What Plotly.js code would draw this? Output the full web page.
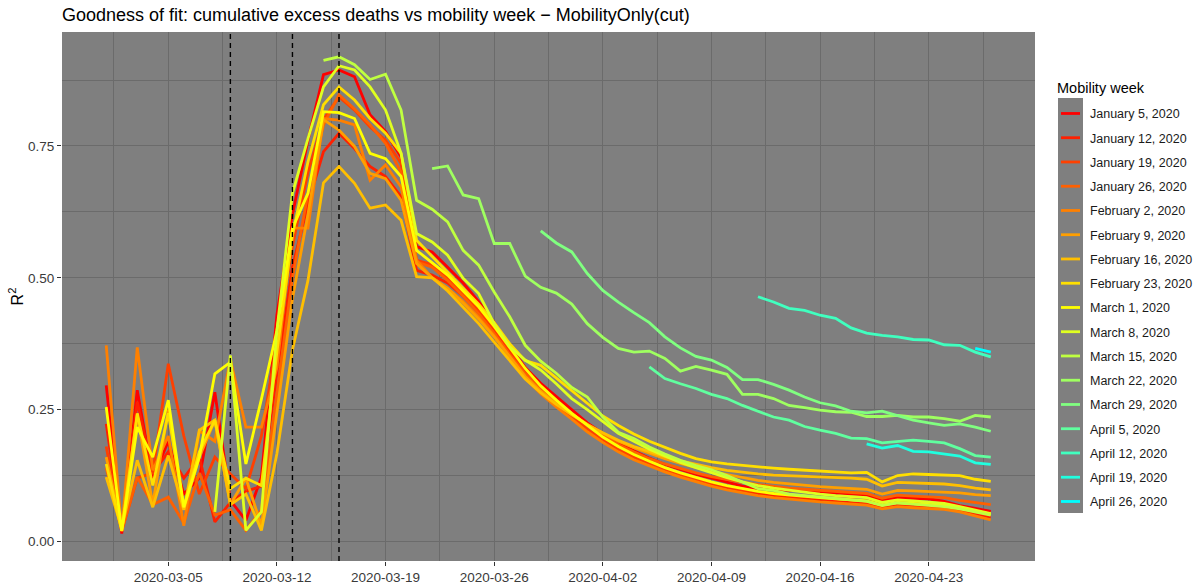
<!DOCTYPE html>
<html><head><meta charset="utf-8">
<script src="https://cdn.plot.ly/plotly-3.0.1.min.js"></script>
<style>html,body{margin:0;padding:0;background:#fff}#chart{width:1202px;height:584px}</style>
</head><body><div id="chart"></div>
<script>
// ---- data ----
const firstDay = '2020-03-01';
const weekLabels = ['January 5, 2020','January 12, 2020','January 19, 2020','January 26, 2020',
  'February 2, 2020','February 9, 2020','February 16, 2020','February 23, 2020',
  'March 1, 2020','March 8, 2020','March 15, 2020','March 22, 2020','March 29, 2020',
  'April 5, 2020','April 12, 2020','April 19, 2020','April 26, 2020'];
// first fitted day of each series, counted in days after 2020-03-01
const seriesStart = [0,0,0,0,0,0,0,0,0,7,14,21,28,35,42,49,56];
const policyDates = ['2020-03-09','2020-03-13','2020-03-16'];
const yTickVals = [0,0.25,0.5,0.75];
const yTickText = ['0.00','0.25','0.50','0.75'];

const jan05 = [0.296,0.015,0.287,0.120,0.190,0.090,0.120,0.283,0.078,0.040,
  0.122,0.430,0.620,0.761,0.885,0.894,0.881,0.809,0.777,0.729,
  0.559,0.549,0.520,0.490,0.455,0.415,0.370,0.330,0.300,0.275,
  0.250,0.225,0.205,0.187,0.172,0.158,0.146,0.136,0.127,0.120,
  0.112,0.105,0.100,0.098,0.097,0.096,0.094,0.092,0.091,0.088,
  0.078,0.083,0.082,0.081,0.076,0.068,0.063,0.057];
const jan12 = [0.223,0.020,0.265,0.130,0.170,0.120,0.160,0.037,0.074,0.095,
  0.105,0.320,0.520,0.640,0.739,0.774,0.745,0.711,0.692,0.654,
  0.514,0.505,0.490,0.465,0.435,0.400,0.360,0.320,0.285,0.260,
  0.235,0.210,0.190,0.172,0.158,0.146,0.135,0.125,0.116,0.108,
  0.101,0.095,0.090,0.086,0.083,0.080,0.078,0.076,0.074,0.072,
  0.064,0.068,0.066,0.064,0.062,0.058,0.052,0.046];
const jan19 = [0.180,0.020,0.120,0.130,0.337,0.200,0.090,0.160,0.128,0.100,
  0.200,0.380,0.560,0.700,0.800,0.843,0.818,0.786,0.761,0.717,
  0.533,0.525,0.500,0.470,0.440,0.405,0.365,0.325,0.290,0.262,
  0.238,0.213,0.193,0.175,0.160,0.147,0.136,0.127,0.118,0.111,
  0.104,0.098,0.094,0.090,0.087,0.085,0.083,0.081,0.079,0.077,
  0.068,0.073,0.072,0.070,0.069,0.064,0.058,0.052];
const jan26 = [0.140,0.020,0.122,0.070,0.084,0.035,0.130,0.050,0.060,0.021,
  0.060,0.280,0.500,0.660,0.790,0.847,0.820,0.790,0.755,0.700,
  0.530,0.520,0.495,0.465,0.432,0.395,0.355,0.318,0.288,0.264,
  0.242,0.220,0.200,0.184,0.170,0.157,0.147,0.138,0.130,0.123,
  0.117,0.112,0.108,0.104,0.101,0.099,0.097,0.095,0.093,0.091,
  0.082,0.088,0.086,0.085,0.083,0.078,0.074,0.070];
const feb02 = [0.372,0.020,0.368,0.135,0.200,0.030,0.210,0.190,0.345,0.217,
  0.217,0.330,0.594,0.594,0.802,0.799,0.790,0.685,0.714,0.672,
  0.533,0.500,0.480,0.455,0.425,0.390,0.350,0.310,0.280,0.255,
  0.232,0.208,0.188,0.170,0.155,0.143,0.132,0.122,0.113,0.105,
  0.098,0.092,0.087,0.083,0.080,0.077,0.075,0.073,0.071,0.069,
  0.062,0.066,0.064,0.063,0.061,0.056,0.048,0.041];
const feb09 = [0.160,0.025,0.240,0.070,0.250,0.060,0.160,0.230,0.070,0.120,
  0.030,0.250,0.460,0.620,0.800,0.780,0.749,0.698,0.688,0.647,
  0.527,0.500,0.480,0.452,0.422,0.388,0.350,0.313,0.285,0.262,
  0.242,0.222,0.205,0.190,0.178,0.167,0.157,0.148,0.140,0.133,
  0.127,0.121,0.116,0.112,0.109,0.106,0.104,0.102,0.101,0.099,
  0.090,0.097,0.096,0.095,0.094,0.092,0.089,0.087];
const feb16 = [0.122,0.025,0.154,0.065,0.163,0.060,0.211,0.230,0.070,0.090,
  0.021,0.167,0.363,0.495,0.680,0.711,0.679,0.632,0.638,0.609,
  0.502,0.500,0.475,0.445,0.413,0.378,0.342,0.308,0.282,0.260,
  0.240,0.222,0.206,0.192,0.180,0.170,0.161,0.153,0.146,0.140,
  0.135,0.131,0.128,0.126,0.125,0.123,0.122,0.121,0.120,0.118,
  0.105,0.112,0.111,0.110,0.109,0.106,0.101,0.098];
const feb23 = [0.147,0.020,0.243,0.106,0.243,0.065,0.170,0.230,0.100,0.120,
  0.106,0.360,0.580,0.720,0.828,0.862,0.837,0.802,0.774,0.736,
  0.571,0.540,0.510,0.480,0.450,0.415,0.375,0.343,0.334,0.310,
  0.287,0.262,0.238,0.220,0.204,0.190,0.178,0.167,0.157,0.151,
  0.147,0.144,0.141,0.139,0.137,0.135,0.134,0.132,0.130,0.131,
  0.113,0.125,0.128,0.127,0.126,0.125,0.118,0.114];
const mar01 = [0.255,0.020,0.217,0.160,0.268,0.065,0.160,0.318,0.340,0.147,
  0.270,0.400,0.594,0.660,0.815,0.813,0.802,0.736,0.726,0.692,
  0.552,0.528,0.505,0.475,0.445,0.408,0.368,0.328,0.295,0.268,
  0.243,0.220,0.198,0.180,0.165,0.152,0.140,0.130,0.121,0.113,
  0.106,0.100,0.095,0.091,0.088,0.085,0.083,0.081,0.079,0.077,
  0.069,0.074,0.072,0.070,0.068,0.064,0.058,0.052];
const mar08 = [0.056,0.353,0.021,0.056,0.400,0.660,0.764,0.862,0.902,0.894,
  0.862,0.818,0.736,0.584,0.568,0.543,0.499,0.470,0.413,0.369,
  0.344,0.325,0.299,0.271,0.250,0.228,0.205,0.190,0.175,0.162,
  0.150,0.140,0.130,0.121,0.113,0.106,0.101,0.097,0.093,0.090,
  0.087,0.085,0.083,0.074,0.079,0.077,0.075,0.072,0.066,0.059,0.053];
const mar15 = [0.912,0.919,0.904,0.876,0.886,0.818,0.647,0.630,0.606,0.552,
  0.524,0.473,0.426,0.372,0.342,0.319,0.292,0.274,0.236,0.207,
  0.195,0.179,0.166,0.154,0.144,0.136,0.125,0.113,0.100,0.097,
  0.090,0.087,0.084,0.081,0.079,0.076,0.068,0.073,0.071,0.069,
  0.066,0.062,0.056,0.050];
const mar22 = [0.707,0.712,0.657,0.650,0.565,0.565,0.503,0.482,0.471,0.450,
  0.413,0.387,0.366,0.359,0.361,0.347,0.323,0.332,0.325,0.317,
  0.279,0.279,0.271,0.258,0.254,0.249,0.246,0.245,0.237,0.237,
  0.239,0.236,0.236,0.233,0.228,0.239,0.236];
const mar29 = [0.589,0.566,0.549,0.508,0.476,0.454,0.434,0.415,0.388,0.367,
  0.351,0.344,0.330,0.307,0.307,0.298,0.287,0.274,0.263,0.257,
  0.247,0.244,0.247,0.238,0.230,0.225,0.220,0.223,0.217,0.209];
const apr05 = [0.331,0.309,0.299,0.290,0.279,0.271,0.258,0.247,0.236,0.230,
  0.218,0.211,0.205,0.196,0.195,0.187,0.190,0.192,0.190,0.187,
  0.176,0.163,0.160];
const apr12 = [0.464,0.454,0.442,0.438,0.429,0.423,0.405,0.395,0.391,0.388,
  0.383,0.382,0.373,0.372,0.359,0.350];
const apr19 = [0.185,0.177,0.182,0.171,0.170,0.166,0.162,0.149,0.146];
const apr26 = [0.366,0.359];

const allSeries = [jan05,jan12,jan19,jan26,feb02,feb09,feb16,feb23,mar01,mar08,
  mar15,mar22,mar29,apr05,apr12,apr19,apr26];

// ---- styles ----
const weekColors = ['#FF0000','#FF2000','#FF4000','#FF6000','#FF8000','#FF9F00',
  '#FFBF00','#FFDF00','#FFFF00','#DFFF20','#BFFF40','#9FFF60','#80FF80',
  '#60FF9F','#40FFBF','#20FFDF','#00FFFF'];
const FONT = 'Liberation Sans, Arial, Helvetica, sans-serif';

function dateAfter(start, n) {
  const d = new Date(start + 'T00:00:00Z');
  d.setUTCDate(d.getUTCDate() + n);
  return d.toISOString().slice(0, 10);
}

const traces = allSeries.map((vals, i) => ({
  type: 'scatter', mode: 'lines',
  x: vals.map((_, k) => dateAfter(firstDay, seriesStart[i] + k)),
  y: vals,
  name: weekLabels[i],
  legendgroup: 'g' + i,
  line: {color: weekColors[i], width: 2.8},
  hoverinfo: 'x+y+name'
}));

const L = 62, R = 167, T = 32, B = 23;
const plotW = 1202 - L - R, plotH = 584 - T - B;
const px2x = p => (p - L) / plotW;
const px2y = p => 1 - (p - T) / plotH;

const shapes = policyDates.map(d => ({
  type: 'line', xref: 'x', yref: 'paper', x0: d, x1: d, y0: 0, y1: 1,
  line: {color: '#000000', width: 1.4, dash: '5px,4px'}, layer: 'above'
}));
shapes.push({
  type: 'rect', xref: 'paper', yref: 'paper',
  x0: px2x(1058), x1: px2x(1083), y0: px2y(513), y1: px2y(98),
  fillcolor: '#7F7F7F', line: {width: 0}, layer: 'below'
});

const layout = {
  width: 1202, height: 584,
  margin: {l: L, r: R, t: T, b: B, pad: 0, autoexpand: false},
  paper_bgcolor: '#FFFFFF', plot_bgcolor: '#7F7F7F',
  font: {family: FONT, color: '#404040', size: 13},
  title: {text: 'Goodness of fit: cumulative excess deaths vs mobility week \u2212 MobilityOnly(cut)',
    font: {family: FONT, size: 18, color: '#000000'},
    xref: 'container', yref: 'container', x: 62/1202, xanchor: 'left',
    y: 1 - 15/584, yanchor: 'middle', automargin: false},
  xaxis: {
    type: 'date', range: ['2020-02-27 03:36', '2020-04-29 20:24'],
    tick0: '2020-03-05', dtick: 7*86400000, tickformat: '%Y-%m-%d',
    showgrid: true, gridcolor: '#6B6B6B', gridwidth: 1.3,
    minor: {tick0: '2020-03-01 12:00', dtick: 7*86400000, showgrid: true,
      gridcolor: '#6B6B6B', gridwidth: 0.7, ticks: ''},
    zeroline: false, showline: false, automargin: false,
    ticks: 'outside', ticklen: 4, tickwidth: 1, tickcolor: '#333333',
    tickfont: {family: FONT, size: 13.5, color: '#3A3A3A'}, fixedrange: true
  },
  yaxis: {
    range: [-0.037, 0.966],
    tickmode: 'array', tickvals: yTickVals, ticktext: yTickText,
    showgrid: true, gridcolor: '#6B6B6B', gridwidth: 1.3,
    minor: {tickmode: 'array', tickvals: [0.125, 0.375, 0.625, 0.875], showgrid: true,
      gridcolor: '#6B6B6B', gridwidth: 0.7, ticks: ''},
    zeroline: false, showline: false, automargin: false,
    ticks: 'outside', ticklen: 4, tickwidth: 1, tickcolor: '#333333',
    tickfont: {family: FONT, size: 13.5, color: '#3A3A3A'},
    title: {text: 'R<sup>2</sup>', font: {family: FONT, size: 16, color: '#000000'}, standoff: 0},
    fixedrange: true
  },
  legend: {
    x: px2x(1050), xanchor: 'left', y: px2y(80), yanchor: 'top',
    bgcolor: 'rgba(0,0,0,0)', borderwidth: 0,
    traceorder: 'grouped', tracegroupgap: 5,
    font: {family: FONT, size: 12.5, color: '#1A1A1A'},
    title: {text: 'Mobility week', font: {family: FONT, size: 14.5, color: '#000000'}},
    itemwidth: 30
  },
  shapes: shapes,
  showlegend: true
};

Plotly.newPlot('chart', traces, layout, {displayModeBar: false}).then(() => {
  document.querySelectorAll('.legendlines path').forEach(p => p.setAttribute('d', 'M11,0h19'));
  document.querySelectorAll('.legendtitletext').forEach(t => t.setAttribute('transform', 'translate(5,-6)'));
});
</script>
</body></html>
